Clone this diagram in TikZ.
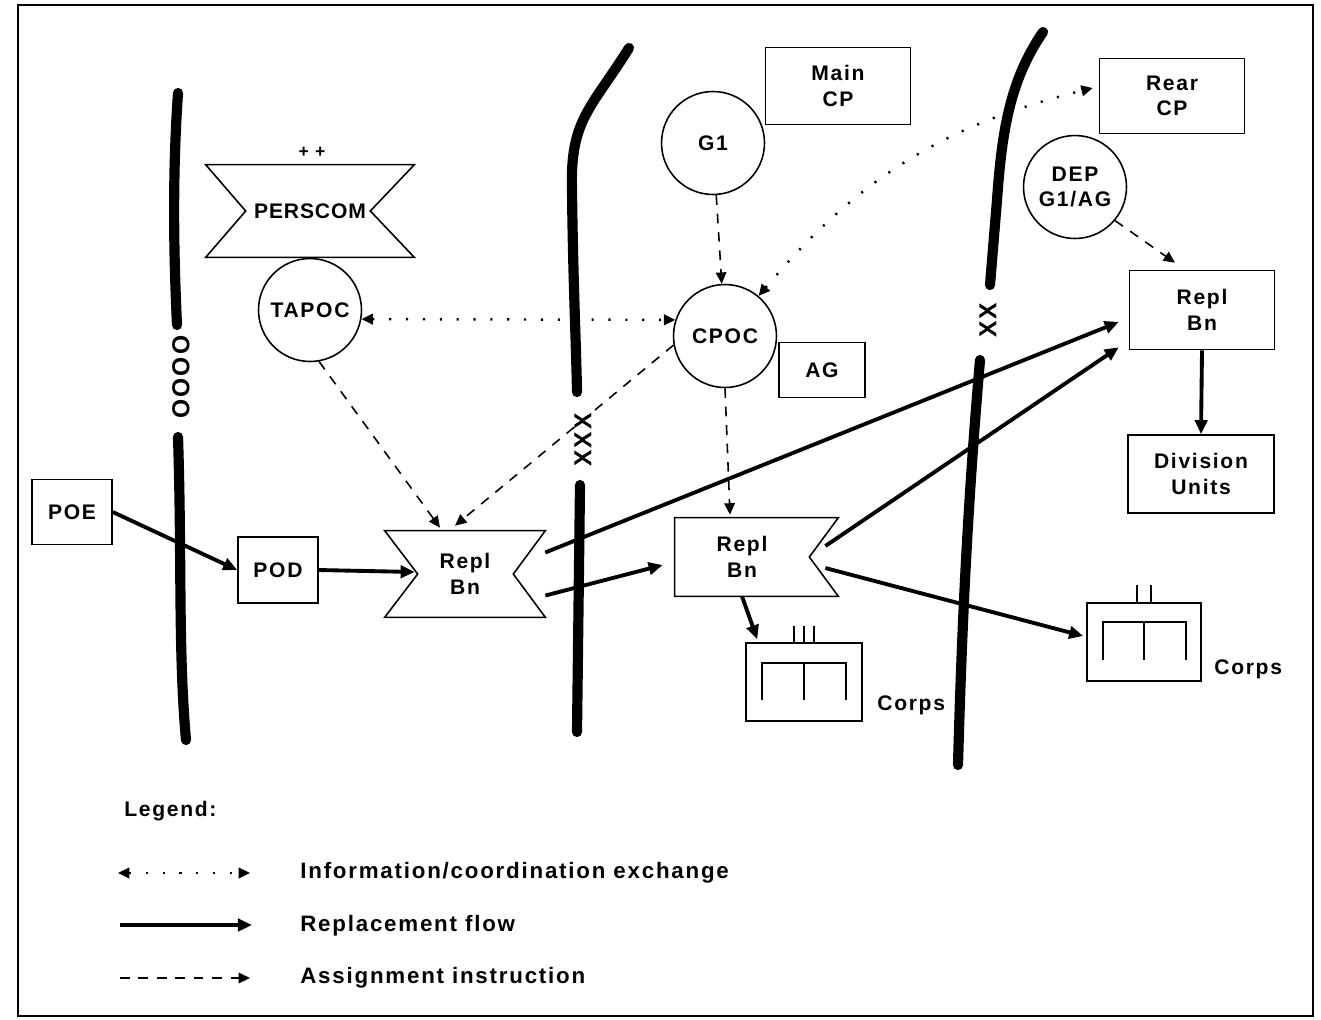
\documentclass[tikz,border=0pt]{standalone}
\usepackage{fontspec}
\setmainfont{Liberation Sans}[LetterSpace=8]
\usetikzlibrary{arrows.meta,calc}

\begin{document}
\begin{tikzpicture}[x=0.02cm, y=-0.02cm,
every node/.style={font=\bfseries\fontsize{12}{14.5}\selectfont, align=center},
boxnode/.style={rectangle, draw=black, line width=0.9pt, inner sep=0pt},
roundnode/.style={circle, draw=black, line width=0.9pt, minimum size=2.06cm, inner sep=0pt},
plainnode/.style={inner sep=0pt},
marknode/.style={inner sep=0pt, rotate=90, font=\bfseries\fontsize{14}{16}\selectfont},
legendtext/.style={inner sep=0pt, anchor=west, font=\bfseries\fontsize{12.7}{15}\selectfont},
outline/.style={line width=0.9pt, line join=miter},
border/.style={line width=5.8pt, line cap=round},
flow/.style={-{Triangle[length=8pt,width=7pt]}, line width=2.2pt},
assign/.style={-{Triangle[length=6.5pt,width=6pt]}, line width=0.9pt, dash pattern=on 5.5pt off 5pt},
info/.style={{Triangle[length=6.5pt,width=6pt]}-{Triangle[length=6.5pt,width=6pt]}, line width=1.4pt, dash pattern=on 1.2pt off 8.4pt},
]
\useasboundingbox (0,0) rectangle (1321,1019);
\draw[line width=1.2pt] (18,5) rectangle (1313,1016);

%Boundaries
\draw[border] (178,93) .. controls (172,180) and (174,260) .. (177,325);
\draw[border] (178,437) .. controls (182,560) and (178,650) .. (186,740);
\draw[border] (629,48) .. controls (590,110) and (570,120) .. (572,190) .. controls (573,280) and (576,340) .. (577,392);
\draw[border] (580,485) -- (577,732);
\draw[border] (1043,32) .. controls (1010,80) and (1002,130) .. (997,200) -- (990,285);
\draw[border] (980,360) .. controls (968,500) and (962,620) .. (958,765);
\node[marknode] at (181,377) (armygp) {OOOO};
\node[marknode] at (583,440) (corpsbd) {XXX};
\node[marknode] at (988,320) (divbd) {XX};

%Nodes
\node[boxnode, minimum width=1.6cm, minimum height=1.3cm] at (72,512) (poe) {POE};
\node[boxnode, minimum width=1.6cm, minimum height=1.32cm] at (278,570) (pod) {POD};
\node[plainnode, minimum width=4.16cm, minimum height=1.84cm, font=\bfseries\fontsize{12}{14.5}\selectfont\addfontfeatures{LetterSpace=4}] at (310,211) (perscom) {PERSCOM};
\node[plainnode, font=\bfseries\fontsize{10}{12}\selectfont] at (312,152) (plus) {+ +};
\node[roundnode] at (310,310) (tapoc) {TAPOC};
\node[roundnode] at (713,143) (gone) {G1};
\node[boxnode, minimum width=2.9cm, minimum height=1.54cm] at (838,86) (maincp) {Main\\CP};
\node[roundnode] at (725,336) (cpoc) {CPOC};
\node[boxnode, minimum width=1.72cm, minimum height=1.1cm] at (822,370) (ag) {AG};
\node[boxnode, minimum width=2.9cm, minimum height=1.5cm] at (1172,96) (rearcp) {Rear\\CP};
\node[roundnode] at (1075,187) (dep) {DEP\\G1/AG};
\node[boxnode, minimum width=2.9cm, minimum height=1.58cm] at (1202,310) (replc) {Repl\\Bn};
\node[boxnode, minimum width=2.92cm, minimum height=1.56cm] at (1201,474) (div) {Division\\Units};
\node[plainnode, minimum width=3.2cm, minimum height=1.72cm] at (465,574) (repla) {Repl\\Bn};
\node[plainnode, minimum width=2.68cm, minimum height=1.56cm] at (742,557) (replb) {Repl\\Bn};
\node[boxnode, minimum width=2.32cm, minimum height=1.56cm] at (804,682) (corpsa) {};
\node[boxnode, minimum width=2.28cm, minimum height=1.56cm] at (1144,642) (corpsb) {};
\node[plainnode, anchor=west] at (877,705) (corpsalbl) {Corps};
\node[plainnode, anchor=west] at (1214,669) (corpsblbl) {Corps};

%Shapes
\draw[outline] (perscom.north west) -- (perscom.north east) -- ($(perscom.east)+(-44,0)$)
  -- (perscom.south east) -- (perscom.south west) -- ($(perscom.west)+(40,0)$) -- cycle;
\draw[outline] (repla.north west) -- (repla.north east) -- ($(repla.east)+(-32,0)$)
  -- (repla.south east) -- (repla.south west) -- ($(repla.west)+(33,0)$) -- cycle;
\draw[outline] (replb.north west) -- ($(replb.north east)+(29,0)$) -- (replb.east)
  -- ($(replb.south east)+(29,0)$) -- (replb.south west) -- cycle;
\draw[line width=1.2pt, shift={(corpsa.center)}] (-42,18) -- (-42,-19) -- (42,-19) -- (42,18) (0,-19) -- (0,18)
  (-10,-56) -- (-10,-39) (0,-56) -- (0,-39) (10,-56) -- (10,-39);
\draw[line width=1.2pt, shift={(corpsb.center)}] (-41,18) -- (-41,-20) -- (42,-20) -- (42,18) (0,-20) -- (0,18)
  (-7,-57) -- (-7,-39) (7,-57) -- (7,-39);

%Lines
\draw[info] (tapoc.-10) -- (cpoc.162);
\draw[info] (cpoc.50) to[bend left=18] ($(rearcp.west)+(-6,-8)$);
\draw[assign] (gone) -- (cpoc);
\draw[assign] (tapoc.-80) -- ($(repla.north)+(-25,-3)$);
\draw[assign] (cpoc.190) -- ($(repla.north)+(-10,-5)$);
\draw[assign] (cpoc.south) -- ($(replb.north)+(-12,-3)$);
\draw[assign] (dep.-40) -- ($(replc.north)+(-27,-7)$);
\draw[flow] (poe.east) -- (pod.west);
\draw[flow] (pod.east) -- ($(repla.west)+(30,-2)$);
\draw[flow] (repla.-15) -- ($(replb.west)+(-12,8)$);
\draw[flow] (repla.15) -- ($(replc.west)+(-10,12)$);
\draw[flow] ($(replb.east)+(16,-11)$) -- ($(replc.south west)+(-10,-3)$);
\draw[flow] ($(replb.east)+(16,11)$) -- ($(corpsb.west)+(-3,-6)$);
\draw[flow] (replb.south) -- ($(corpsa.north west)+(12,-3)$);
\draw[flow] (replc.south) -- (div.north);

%Legend
\node[plainnode, anchor=west] at (124,811) (legend) {Legend:};
\coordinate (infoa) at (118,873);
\coordinate (infob) at (250,873);
\coordinate (flowa) at (120,925);
\coordinate (flowb) at (252,925);
\coordinate (assigna) at (120,978);
\coordinate (assignb) at (250,978);
\draw[info] (infoa) -- (infob);
\draw[flow] (flowa) -- (flowb);
\draw[assign] (assigna) -- (assignb);
\node[legendtext] at (300,873) (infotxt) {Information/coordination exchange};
\node[legendtext] at (300,926) (flowtxt) {Replacement flow};
\node[legendtext] at (300,978) (assigntxt) {Assignment instruction};
\end{tikzpicture}
\end{document}
